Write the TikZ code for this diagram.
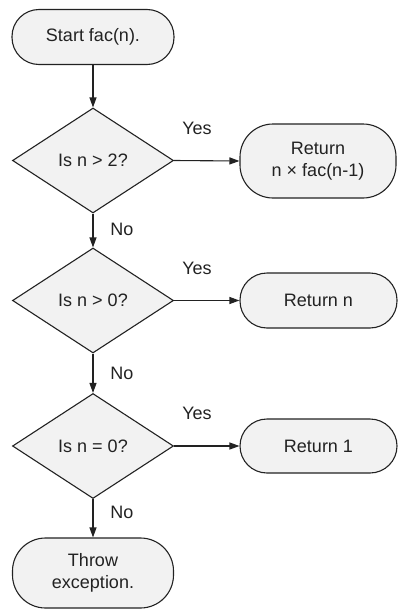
\documentclass[tikz,border=0pt]{standalone}
\usepackage{fontspec}
\setmainfont{Liberation Sans}
\usetikzlibrary{shapes.geometric,arrows.meta}

\definecolor{boxfill}{HTML}{F2F2F2}
\definecolor{ink}{HTML}{222222}

\tikzset{
  every node/.style={font=\fontsize{18}{22}\selectfont, text=ink},
  term/.style={draw=ink, fill=boxfill, line width=1.1pt, rounded corners=27pt,
    align=center, inner sep=0pt},
  tallterm/.style={term, rounded corners=33pt},
  decision/.style={draw=ink, fill=boxfill, line width=1.1pt, diamond,
    minimum width=161pt, minimum height=105pt, inner sep=0pt, aspect=1.53},
  flow/.style={draw=ink, line width=1.1pt, -{Triangle[length=10pt,width=7pt]}},
  lbl/.style={inner sep=0pt}
}

\begin{document}
\begin{tikzpicture}[x=1pt, y=-1pt]
  \useasboundingbox (0,0) rectangle (398,610);

  % terminals and decisions
  \node[term, minimum width=162pt, minimum height=55pt] (start) at (93,37) {Start fac(n).};
  \node[decision] (d1) at (93,160.5) {Is n > 2?};
  \node[decision] (d2) at (93,300.5) {Is n > 0?};
  \node[decision] (d3) at (93,446) {Is n = 0?};

  \node[tallterm, minimum width=156pt, minimum height=74pt] (r1) at (318,161) {Return\\n × fac(n-1)};
  \node[term, minimum width=157pt, minimum height=55pt] (r2) at (318.5,300.5) {Return n};
  \node[term, minimum width=157pt, minimum height=54pt] (r3) at (318.5,446) {Return 1};
  \node[tallterm, minimum width=161pt, minimum height=70pt] (thr) at (93,573) {Throw\\exception.};

  % connectors
  \draw[flow] (start) -- (d1.north);
  \draw[flow] (d1.east) -- (r1.west);
  \draw[flow] (d1.south) -- (d2.north);
  \draw[flow] (d2.east) -- (r2.west);
  \draw[flow] (d2.south) -- (d3.north);
  \draw[flow] (d3.east) -- (r3.west);
  \draw[flow] (d3.south) -- (thr.north);

  % branch labels
  \node[lbl] (y1) at (197,128) {Yes};
  \node[lbl] (y2) at (197,268) {Yes};
  \node[lbl] (y3) at (197,413) {Yes};
  \node[lbl] (n1) at (122,229) {No};
  \node[lbl] (n2) at (122,373) {No};
  \node[lbl] (n3) at (122,512) {No};
\end{tikzpicture}
\end{document}
